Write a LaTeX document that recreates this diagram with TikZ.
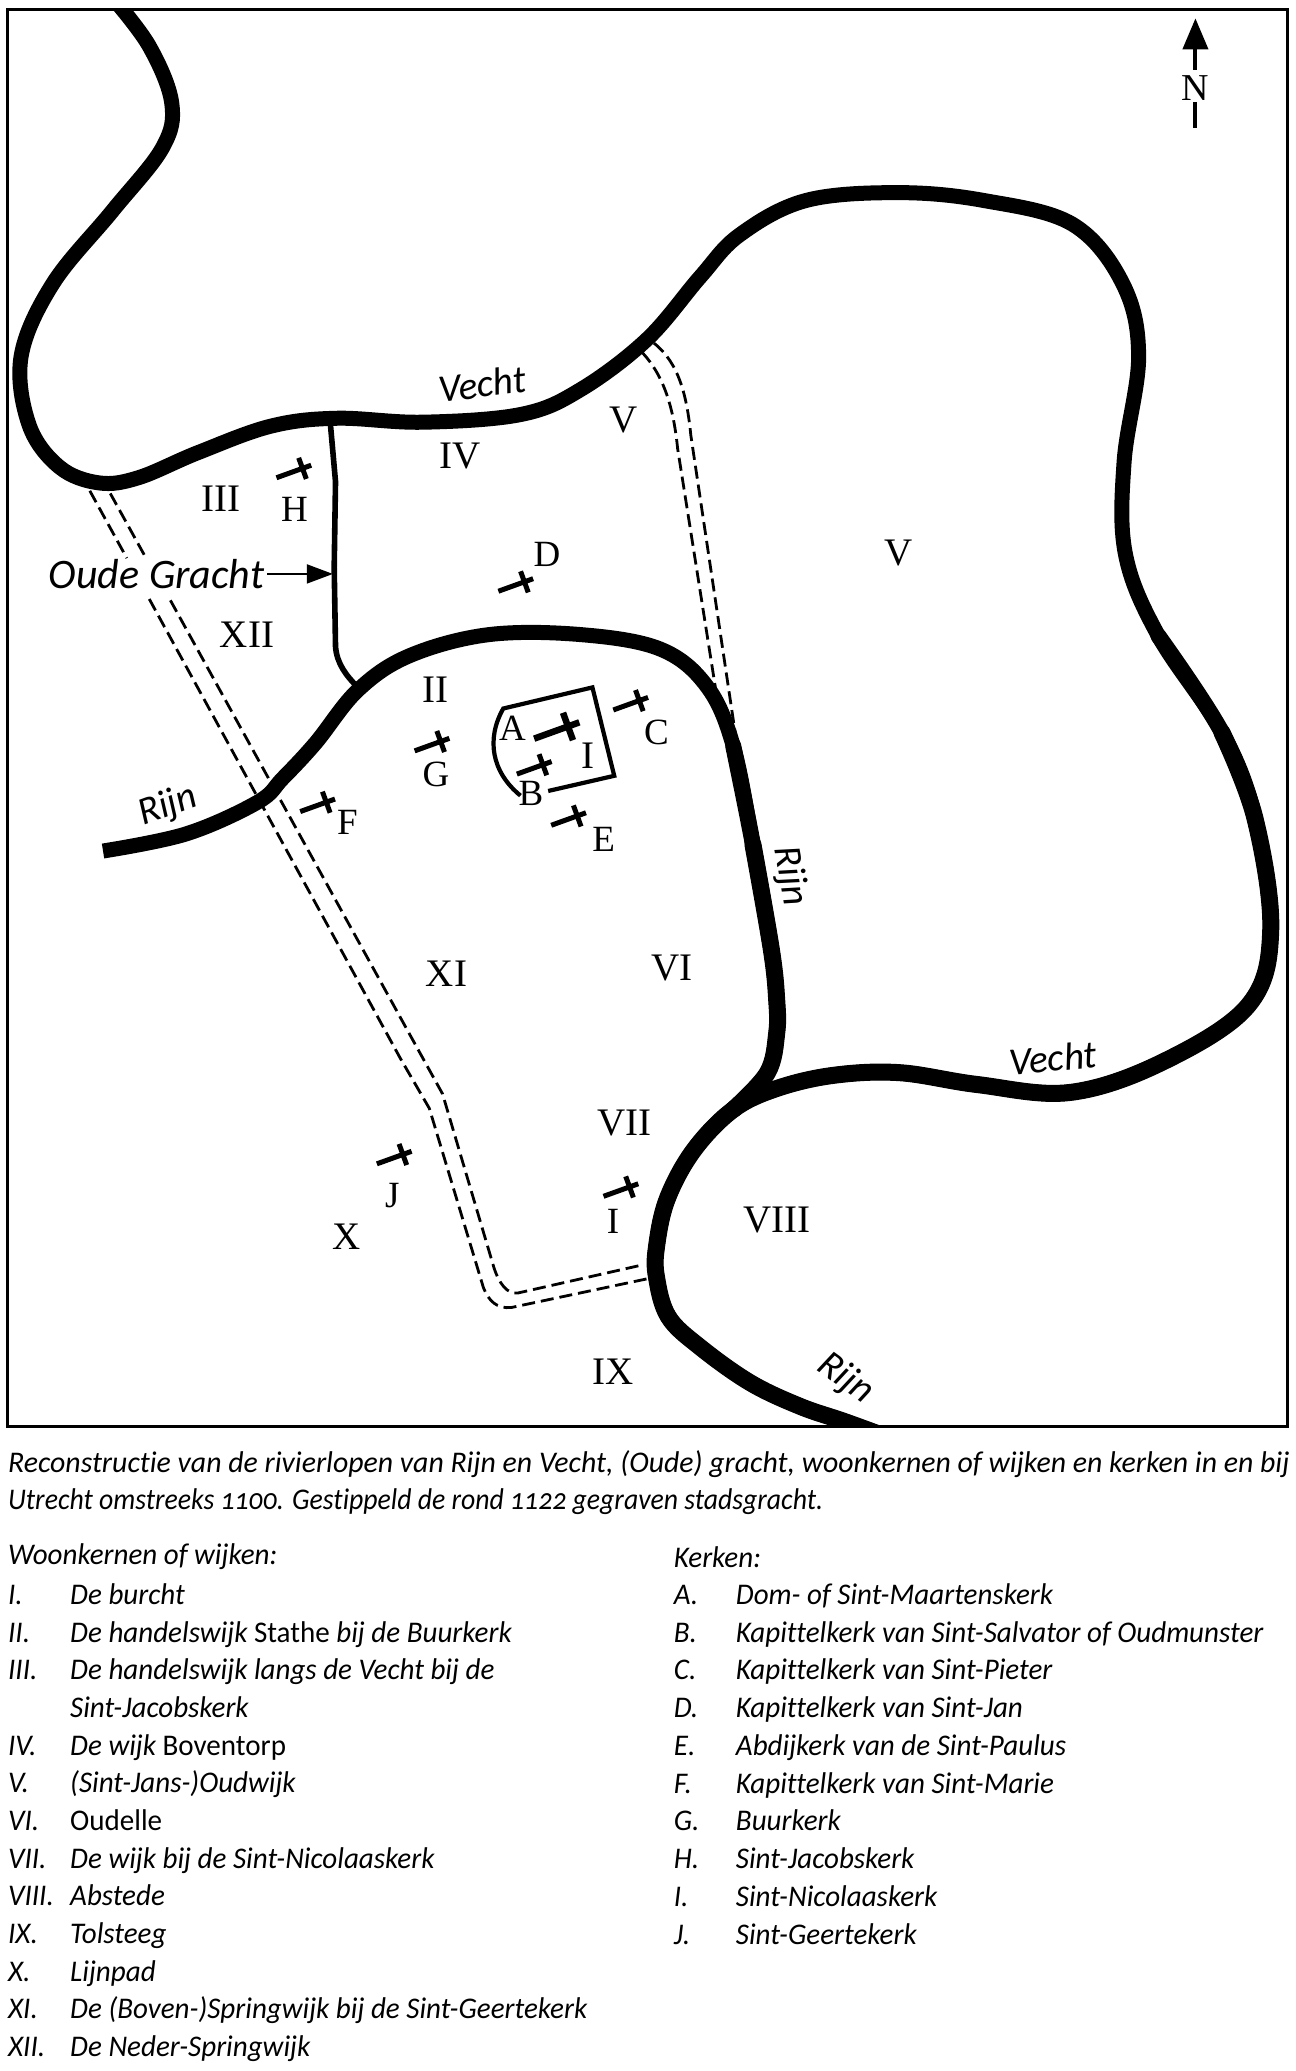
\documentclass[tikz,border=0pt]{standalone}
\usepackage{fontspec}
\usetikzlibrary{arrows.meta}
\setmainfont{Liberation Serif}
\newfontfamily\capfont[FakeStretch=0.993,Ligatures=NoCommon,Numbers=OldStyle]{Carlito}
\newfontfamily\captwofont[FakeStretch=0.925,Ligatures=NoCommon,Numbers=OldStyle]{Carlito}
\newfontfamily\legfont[FakeStretch=0.968,Ligatures=NoCommon,Numbers=OldStyle]{Carlito}
\newfontfamily\mapfont[Ligatures=NoCommon]{Carlito}
\newcommand{\up}[1]{{\upshape #1}}
\newcommand{\kruis}[3]{%
  \draw[churchline,line width=#3*5pt] ({#1-19.7*#3},{#2+7.1*#3}) -- ({#1+6.6*#3},{#2-2.4*#3});
  \draw[churchline,line width=#3*5pt] ({#1-2.9*#3},{#2-8*#3}) -- ({#1+2.9*#3},{#2+8*#3});}
\tikzset{
  x=1.3209pt,y=-1.3194pt,
  river/.style={line width=15pt,line join=round,line cap=butt},
  riverb/.style={line width=16pt,line join=round,line cap=round},
  riverc/.style={line width=17pt,line join=round,line cap=round},
  canal/.style={line width=2.8pt,dash pattern=on 13pt off 6pt},
  churchline/.style={line cap=butt},
  lab/.style={font=\fontsize{39}{39}\selectfont,inner sep=0pt},
  let/.style={font=\fontsize{37}{37}\selectfont,inner sep=0pt},
  riv/.style={font=\mapfont\itshape\fontsize{39}{39}\selectfont,inner sep=0pt},
  captext/.style={font=\capfont\itshape\fontsize{30}{30}\selectfont,inner sep=0pt,anchor=base west},
  captexttwo/.style={font=\captwofont\itshape\fontsize{30}{30}\selectfont,inner sep=0pt,anchor=base west},
  leg/.style={font=\legfont\itshape\fontsize{30}{30}\selectfont,inner sep=0pt,anchor=base west},
}
\begin{document}
\begin{tikzpicture}
\useasboundingbox (0,0) rectangle (981.13,1569.65);
\fill[white] (0,0) rectangle (981.13,1569.65);
% canals
\draw[canal] (68,372) -- (96,423);
\draw[canal] (83.5,374) -- (110,422);
\draw[canal] (113,454) -- (303,802) -- (325,840) -- (366,976) .. controls (370,986) and (376,992) .. (387,991) -- (491,969);
\draw[canal] (129,455) -- (303,771) -- (335,829) -- (374,961) .. controls (378,973) and (384,981) .. (392,980) -- (485,959);
\draw[canal] (486,267) .. controls (503,285) and (510,310) .. (513,340) -- (543,530);
\draw[canal] (495,260) .. controls (514,275) and (520,300) .. (523,330) -- (558,565);
% rivers
\begin{scope}
\clip (6,7) rectangle (975,1081);
\draw[river] plot[smooth,tension=0.6] coordinates {(85,-2) (113,35) (130,78) (123,112) (85,160) (40,215) (16,270) (22,322) (45,354) (75,366) (105,362) (150,343) (205,323) (255,317) (320,320) (395,314) (440,295) (490,257) (530,210) (560,178) (610,152) (680,146) (745,152) (812,170) (850,215) (862,270) (851,350) (852,420) (877,482) (925,555) (950,620) (962,705) (945,762) (880,805) (810,828) (740,822) (681,813) (631,815) (588,825) (555,841) (525,872) (505,909) (497,945) (497,968) (506,998) (530,1021) (568,1048) (606,1066) (641,1078) (690,1096)};
\draw[river] plot[smooth,tension=0.6] coordinates {(78,645) (141,632) (195,608) (214,590) (239,563) (271,523) (310,497) (370,481) (440,481) (500,492) (535,520) (555,565) (570,640) (584,720) (588,758) (588,783) (581,813) (555,841)};
\draw[riverb] plot[smooth,tension=0.6] coordinates {(877,482) (925,555) (950,620) (962,705) (945,762) (880,805) (810,828) (740,822) (681,813) (631,815) (588,825) (555,841) (525,872) (505,909) (497,945) (497,968) (506,998) (530,1021) (568,1048) (606,1066) (641,1078) (690,1096)};
\draw[riverb] plot[smooth,tension=0.6] coordinates {(555,565) (570,640) (584,720) (588,758) (588,783) (581,813) (555,841)};
\draw[riverc] plot[smooth,tension=0.6] coordinates {(925,555) (950,620) (962,705) (945,762) (880,805) (810,828) (740,822) (681,813) (631,815) (588,825) (555,841) (525,872) (505,909) (497,945) (497,968) (506,998) (530,1021) (568,1048) (606,1066) (641,1078) (690,1096)};
\draw[riverc] plot[smooth,tension=0.6] coordinates {(570,640) (584,720) (588,758) (588,783) (581,813) (555,841)};
\end{scope}
% Oude gracht
\draw[line width=5.6pt] (250,320) -- (254,365) -- (253,430) -- (254,490) .. controls (255,503) and (262,512) .. (271,521);
% burcht
\draw[line width=4.2pt,line join=miter] (394,603) .. controls (372,585) and (368,560) .. (381,537) -- (448.5,521) -- (465,588) -- (415,599.5);
% churches
\kruis{229}{355}{1}
\kruis{397}{441}{1}
\kruis{333.6}{562}{1}
\kruis{430}{550.6}{1.3}
\kruis{411}{579.6}{1}
\kruis{484}{531}{1}
\kruis{437}{618.4}{1}
\kruis{247}{608}{1}
\kruis{305}{875}{1}
\kruis{476.6}{899.6}{1}
% frame
\draw[line width=3pt] (6,7) rectangle (975,1081);
% north arrow
\node[font=\fontsize{38}{38}\selectfont,inner sep=0pt] (north) at (905,66.7) {N};
\coordinate (ntop) at (905,13.9);
\coordinate (nmid) at (905,53);
\coordinate (nlow) at (905,77.3);
\coordinate (nbot) at (905,97);
\draw[line width=4pt,-{Triangle[length=31pt,width=25pt]}] (nmid) -- (ntop);
\draw[line width=4pt] (nlow) -- (nbot);
% river labels
\node[riv,rotate=7] (v1) at (365,291) {Vecht};
\node[riv,rotate=5] (v2) at (797,802) {Vecht};
\node[riv,rotate=20] (r1) at (127,611) {Rijn};
\node[riv,rotate=-80] (r2) at (598,664) {Rijn};
\node[riv,rotate=-36] (r3) at (640,1045) {Rijn};
\node[riv,font=\mapfont\itshape\fontsize{42}{42}\selectfont] (oude) at (118.5,435) {Oude Gracht};
\coordinate (oudetip) at (252,435);
\draw[line width=1.8pt,-{Triangle[length=26pt,width=19pt]}] (oude.east) ++(2,0) -- (oudetip);
% district labels
\node[lab] (l3) at (167,378) {III};
\node[lab] (l4) at (348,346) {IV};
\node[lab] (l5a) at (472,318) {V};
\node[lab] (l5b) at (680,419) {V};
\node[lab] (l12) at (187,481) {XII};
\node[lab] (l2) at (330,523) {II};
\node[lab] (l1) at (445,573) {I};
\node[lab] (l11) at (338,738) {XI};
\node[lab] (l6) at (509,734) {VI};
\node[lab] (l7) at (473,851) {VII};
\node[lab] (l8) at (588,925) {VIII};
\node[lab] (l10) at (262,937) {X};
\node[lab] (l9) at (464,1040) {IX};
\node[let] (cH) at (223,386) {H};
\node[let] (cD) at (414,420) {D};
\node[let] (cA) at (388,552) {A};
\node[let] (cB) at (402,601) {B};
\node[let] (cC) at (497,555) {C};
\node[let] (cG) at (330,587) {G};
\node[let] (cF) at (263,623) {F};
\node[let] (cE) at (457,636) {E};
\node[let] (cJ) at (297,906) {J};
\node[let] (cI) at (464,926) {I};
% caption
\node[captext] (cap1) at (6,1116) {Reconstructie van de rivierlopen van Rijn en Vecht, (Oude) gracht, woonkernen of wijken en kerken in en bij};
\node[captexttwo] (cap2) at (6,1144) {Utrecht omstreeks 1100. Gestippeld de rond 1122 gegraven stadsgracht.};
\begin{scope}[shift={(0,-1)}]
% legend left
\node[leg] (wh) at (6,1187) {Woonkernen of wijken:};
\node[leg] (wn1) at (6,1217) {I.};
\node[leg] (wt1) at (53,1217) {De burcht};
\node[leg] (wn2) at (6,1245.6) {II.};
\node[leg] (wt2) at (53,1245.6) {De handelswijk \up{Stathe} bij de Buurkerk};
\node[leg] (wn3) at (6,1274.1) {III.};
\node[leg] (wt3) at (53,1274.1) {De handelswijk langs de Vecht bij de};
\node[leg] (wt3b) at (53,1302.7) {Sint-Jacobskerk};
\node[leg] (wn4) at (6,1331.2) {IV.};
\node[leg] (wt4) at (53,1331.2) {De wijk \up{Boventorp}};
\node[leg] (wn5) at (6,1359.8) {V.};
\node[leg] (wt5) at (53,1359.8) {(Sint-Jans-)Oudwijk};
\node[leg] (wn6) at (6,1388.4) {VI.};
\node[leg] (wt6) at (53,1388.4) {\up{Oudelle}};
\node[leg] (wn7) at (6,1416.9) {VII.};
\node[leg] (wt7) at (53,1416.9) {De wijk bij de Sint-Nicolaaskerk};
\node[leg] (wn8) at (6,1445.5) {VIII.};
\node[leg] (wt8) at (53,1445.5) {Abstede};
\node[leg] (wn9) at (6,1474) {IX.};
\node[leg] (wt9) at (53,1474) {Tolsteeg};
\node[leg] (wn10) at (6,1502.6) {X.};
\node[leg] (wt10) at (53,1502.6) {Lijnpad};
\node[leg] (wn11) at (6,1531.2) {XI.};
\node[leg] (wt11) at (53,1531.2) {De (Boven-)Springwijk bij de Sint-Geertekerk};
\node[leg] (wn12) at (6,1559.7) {XII.};
\node[leg] (wt12) at (53,1559.7) {De Neder-Springwijk};
% legend right
\node[leg] (kh) at (510,1189) {Kerken:};
\node[leg] (kn1) at (510,1217) {A.};
\node[leg] (kt1) at (557,1217) {Dom- of Sint-Maartenskerk};
\node[leg] (kn2) at (510,1245.6) {B.};
\node[leg] (kt2) at (557,1245.6) {Kapittelkerk van Sint-Salvator of Oudmunster};
\node[leg] (kn3) at (510,1274.2) {C.};
\node[leg] (kt3) at (557,1274.2) {Kapittelkerk van Sint-Pieter};
\node[leg] (kn4) at (510,1302.8) {D.};
\node[leg] (kt4) at (557,1302.8) {Kapittelkerk van Sint-Jan};
\node[leg] (kn5) at (510,1331.4) {E.};
\node[leg] (kt5) at (557,1331.4) {Abdijkerk van de Sint-Paulus};
\node[leg] (kn6) at (510,1360) {F.};
\node[leg] (kt6) at (557,1360) {Kapittelkerk van Sint-Marie};
\node[leg] (kn7) at (510,1388.6) {G.};
\node[leg] (kt7) at (557,1388.6) {Buurkerk};
\node[leg] (kn8) at (510,1417.2) {H.};
\node[leg] (kt8) at (557,1417.2) {Sint-Jacobskerk};
\node[leg] (kn9) at (510,1445.8) {I.};
\node[leg] (kt9) at (557,1445.8) {Sint-Nicolaaskerk};
\node[leg] (kn10) at (510,1474.4) {J.};
\node[leg] (kt10) at (557,1474.4) {Sint-Geertekerk};
\end{scope}
\end{tikzpicture}
\end{document}
